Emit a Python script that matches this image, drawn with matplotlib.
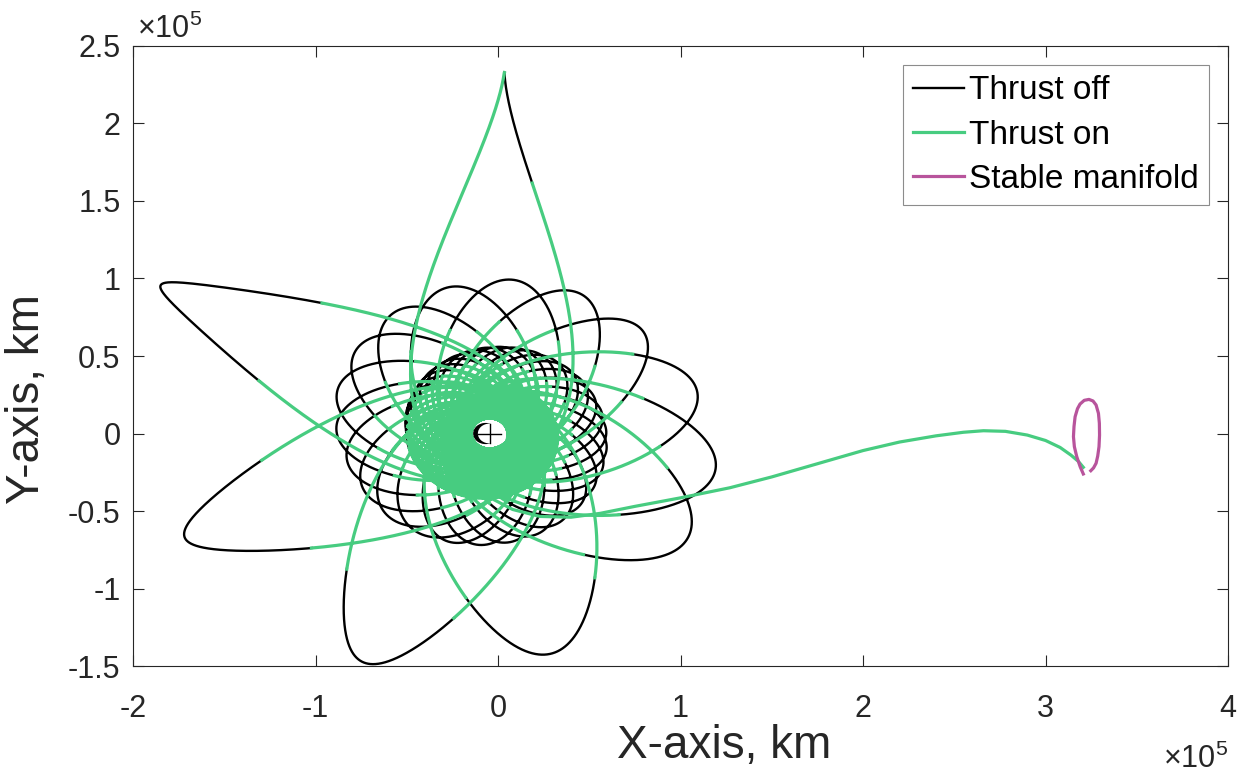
import matplotlib
matplotlib.use("Agg")
import matplotlib.pyplot as plt
import numpy as np
from matplotlib.lines import Line2D
from matplotlib.patches import Circle
from matplotlib.ticker import FuncFormatter, MultipleLocator

MU_EARTH = 398600.4418      # km^3/s^2
FRAME_RATE = 2.661699e-6    # rad/s, Earth-Moon rotating frame
EARTH_X = -0.04671          # Earth position from barycentre, 1e5 km
EARTH_RADIUS = 0.06378      # 1e5 km
UNIT = 1e5                  # km per plot unit

# Apogee radius of each revolution (1e5 km, from Earth centre)
CORE_APOGEE = [0.220, 0.228, 0.236, 0.244, 0.252, 0.260, 0.268, 0.276, 0.284,
               0.292, 0.300, 0.308, 0.316, 0.324, 0.332, 0.340, 0.345, 0.348,
               0.351, 0.354, 0.357, 0.360, 0.363, 0.366, 0.369, 0.372, 0.375,
               0.378, 0.381, 0.384, 0.387, 0.390, 0.393, 0.396, 0.399, 0.402,
               0.405, 0.408, 0.411, 0.414, 0.417, 0.420, 0.423, 0.426, 0.429,
               0.432, 0.435, 0.438, 0.441, 0.444, 0.447, 0.450, 0.453, 0.456]
CORE_PERIGEE = 0.10
ROSETTE_APOGEE = [0.460, 0.470, 0.479, 0.488, 0.497, 0.506, 0.516, 0.525,
                  0.535, 0.544, 0.554, 0.563, 0.573, 0.582, 0.592, 0.601,
                  0.611, 0.620, 0.630, 0.640, 0.650, 0.660, 0.670, 0.680,
                  0.690, 0.700, 0.710, 0.721, 0.733]
ROSETTE_PERIGEE = 0.11
INNER_CUT_RADIUS = 0.45     # thrust off beyond this radius

MID_APOGEE = [0.75, 0.77, 0.78, 0.80, 0.84, 0.88, 0.91, 0.94, 0.97, 1.00,
              1.03, 1.07]
MID_PERIGEE = 0.15
MID_CUT = 0.70              # thrust off beyond this fraction of apogee

OUTER_APOGEE = [1.17, 1.26, 1.28, 1.46, 1.63, 1.80, 2.04, 2.33]
OUTER_PERIGEE = [0.20, 0.22, 0.23, 0.24, 0.24, 0.24, 0.26, 0.30]
OUTER_TIP_DEG = [14, -11, -33, -77, -115, -158, -208, -272]
OUTER_CUT_ASC = [0.80, 0.70, 0.73, 0.73, 0.72, 0.70, 0.61, 0.70]
OUTER_CUT_DESC = [0.80, 0.69, 0.78, 0.75, 0.74, 0.68, 0.64, 9.0]

# transfer arc from the last perigee out to the manifold (1e5 km, barycentric)
ESCAPE_X = [-0.05, 0.08, 0.23, 0.40, 0.56, 0.75, 1.00, 1.27, 1.50, 1.75,
            2.00, 2.20, 2.40, 2.55, 2.66, 2.78, 2.90, 3.00, 3.08, 3.14,
            3.18, 3.207]
ESCAPE_Y = [-0.41, -0.49, -0.535, -0.54, -0.515, -0.47, -0.415, -0.35, -0.28,
            -0.195, -0.11, -0.055, -0.015, 0.008, 0.018, 0.014, -0.01, -0.045,
            -0.09, -0.14, -0.18, -0.218]

MANIFOLD_X = [3.207, 3.190, 3.171, 3.158, 3.153, 3.156, 3.162, 3.175, 3.189,
              3.212, 3.238, 3.260, 3.277, 3.290, 3.295, 3.296, 3.293, 3.286,
              3.277, 3.263, 3.248]
MANIFOLD_Y = [-0.261, -0.215, -0.149, -0.085, -0.020, 0.045, 0.108, 0.160,
              0.190, 0.214, 0.220, 0.210, 0.184, 0.130, 0.066, -0.010,
              -0.085, -0.145, -0.192, -0.222, -0.240]

GREEN = "#47CC80"
PINK = "#B8549C"


def solve_kepler(M, e):
    E = np.full_like(M, np.pi)
    for _ in range(60):
        E = E - (E - e * np.sin(E) - M) / (1.0 - e * np.cos(E))
    return E


def stepped(u, vals):
    # elements change around perigee, between successive apogees
    pos = u - 0.5
    k = np.clip(np.floor(pos).astype(int), 0, len(vals) - 2)
    s = pos - k
    w = 0.5 * (1 + np.tanh((s - 0.5) / 0.04))
    return vals[k] + w * (vals[k + 1] - vals[k])


def build_spiral():
    n_inner = len(CORE_APOGEE) + len(ROSETTE_APOGEE)
    apogee = np.array(CORE_APOGEE + ROSETTE_APOGEE + MID_APOGEE + OUTER_APOGEE)
    perigee = np.array([CORE_PERIGEE] * len(CORE_APOGEE)
                       + [ROSETTE_PERIGEE] * len(ROSETTE_APOGEE)
                       + [MID_PERIGEE] * len(MID_APOGEE) + OUTER_PERIGEE)
    cut_asc = np.array([INNER_CUT_RADIUS] * n_inner
                       + [MID_CUT * r for r in MID_APOGEE]
                       + [c * r for c, r in zip(OUTER_CUT_ASC, OUTER_APOGEE)])
    cut_desc = np.array([INNER_CUT_RADIUS] * n_inner
                        + [MID_CUT * r for r in MID_APOGEE]
                        + [c * r for c, r in zip(OUTER_CUT_DESC, OUTER_APOGEE)])
    n_rev = len(apogee)
    u_apo = np.arange(n_rev) + 0.5

    per_rev = 1500
    u = np.linspace(0.0, n_rev, n_rev * per_rev + 1)
    ra = stepped(u, apogee) * UNIT
    rp = stepped(u, perigee) * UNIT
    a = 0.5 * (ra + rp)
    e = (ra - rp) / (ra + rp)

    # elapsed time along the spiral
    dt_du = 2 * np.pi * np.sqrt(a ** 3 / MU_EARTH)
    t = np.concatenate([[0.0], np.cumsum(0.5 * (dt_du[1:] + dt_du[:-1]) * np.diff(u))])
    t_apo = np.interp(u_apo, u, t)

    # inertial line of apsides from the apogee direction in the rotating frame
    first = n_inner + len(MID_APOGEE)
    omega_known = np.radians(OUTER_TIP_DEG) - np.pi + FRAME_RATE * t_apo[first:]
    omega = np.concatenate([np.full(first, omega_known[0]), omega_known])
    w = stepped(u, omega)

    M = 2 * np.pi * (u - np.floor(u))
    M[-1] = 2 * np.pi
    E = solve_kepler(M, e)
    nu = 2 * np.arctan2(np.sqrt(1 + e) * np.sin(E / 2), np.sqrt(1 - e) * np.cos(E / 2))
    r = a * (1 - e * np.cos(E))
    ang = w + nu - FRAME_RATE * t
    x = EARTH_X + r * np.cos(ang) / UNIT
    y = r * np.sin(ang) / UNIT

    k = np.clip(np.floor(u).astype(int), 0, n_rev - 1)
    cut = np.where(M < np.pi, cut_asc[k], cut_desc[k])
    off = r > cut * UNIT
    return x, y, off


def masked(x, y, keep):
    grow = keep.copy()
    grow[1:] |= keep[:-1]
    grow[:-1] |= keep[1:]
    return np.where(grow, x, np.nan), np.where(grow, y, np.nan)


plt.rcParams.update({
    "font.family": ["Liberation Sans", "DejaVu Sans"],
    "mathtext.fontset": "custom",
    "mathtext.rm": "Liberation Sans",
    "axes.unicode_minus": False,
})

fig = plt.figure(figsize=(12.48, 7.82), dpi=100)
ax = fig.add_axes([0.1066, 0.1483, 0.8774, 0.7929])

x, y, off = build_spiral()
xb, yb = masked(x, y, off)
xg, yg = masked(x, y, ~off)
ax.plot(xb, yb, color="black", lw=1.7, zorder=2)
ax.plot(xg, yg, color=GREEN, lw=2.3, zorder=3)
ax.plot(np.r_[x[-1], ESCAPE_X], np.r_[y[-1], ESCAPE_Y], color=GREEN, lw=2.3, zorder=3)
ax.plot(MANIFOLD_X, MANIFOLD_Y, color=PINK, lw=2.3, zorder=3)

# Earth
ax.add_patch(Circle((EARTH_X - 0.022, 0.0), EARTH_RADIUS, color="black", zorder=5))
ax.add_patch(Circle((EARTH_X, 0.0), EARTH_RADIUS, facecolor="white",
                    edgecolor="none", zorder=6))
ax.plot([EARTH_X - EARTH_RADIUS, EARTH_X + EARTH_RADIUS], [0, 0], color="black", lw=1, zorder=7)
ax.plot([EARTH_X, EARTH_X], [-EARTH_RADIUS, EARTH_RADIUS], color="black", lw=1, zorder=7)

ax.set_xlim(-2, 4)
ax.set_ylim(-1.5, 2.5)
ax.xaxis.set_major_locator(MultipleLocator(1))
ax.yaxis.set_major_locator(MultipleLocator(0.5))
fmt = FuncFormatter(lambda v, _: f"{v:g}")
ax.xaxis.set_major_formatter(fmt)
ax.yaxis.set_major_formatter(fmt)
ax.tick_params(direction="in", length=8, width=0.8, labelsize=22, colors="#262626",
               top=True, right=True)
ax.tick_params(axis="x", pad=20)
ax.tick_params(axis="y", pad=9)
for s in ax.spines.values():
    s.set_color("#262626")
    s.set_linewidth(0.8)

ax.set_xlabel("X-axis, km", fontsize=33, color="#262626")
ax.set_ylabel("Y-axis, km", fontsize=33, color="#262626")
ax.xaxis.set_label_coords(0.54, -0.093)
ax.yaxis.set_label_coords(-0.077, 0.43)

ax.text(0.004, 1.013, "×10$^{5}$", transform=ax.transAxes, fontsize=22,
        color="#262626", va="baseline", ha="left")
ax.text(1.0, -0.1645, "×10$^{5}$", transform=ax.transAxes, fontsize=22,
        color="#262626", va="baseline", ha="right")

handles = [Line2D([], [], color="black", lw=1.7),
           Line2D([], [], color=GREEN, lw=2.3),
           Line2D([], [], color=PINK, lw=2.3)]
leg = ax.legend(handles, ["Thrust off", "Thrust on", "Stable manifold"],
                loc="upper right", bbox_to_anchor=(0.9826, 0.969), borderaxespad=0,
                fontsize=24, handlelength=1.55, handletextpad=0.15, borderpad=0.3,
                labelspacing=0.4, fancybox=False, framealpha=1)
leg.get_frame().set_edgecolor("#8c8c8c")
leg.get_frame().set_linewidth(0.8)

fig.savefig("out.png", dpi=100)
